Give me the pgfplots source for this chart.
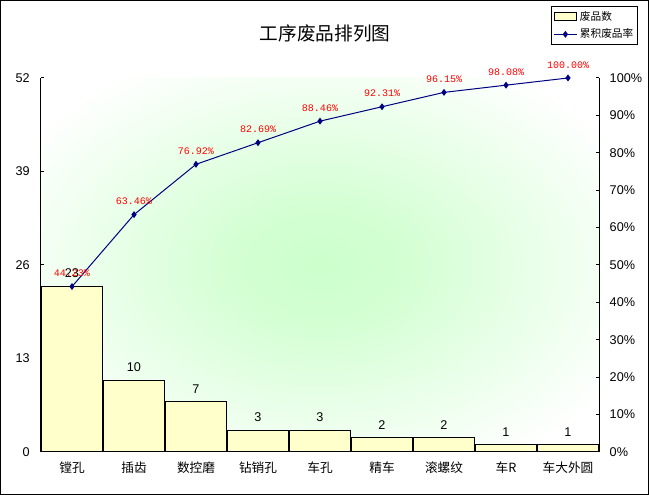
\documentclass[border=0pt]{standalone}
\usepackage{pgfplots}
\pgfplotsset{compat=1.18}
\usepackage{fontspec}
\setmainfont{Liberation Sans}
\newfontfamily\cjk{Noto Sans CJK SC}
\newfontfamily\mono{Liberation Mono}
\definecolor{baryel}{HTML}{FFFFCC}
\definecolor{navyl}{HTML}{000080}
\definecolor{bgc}{HTML}{CCFFCC}
\pgfdeclareradialshading{bgshade}{\pgfpoint{0bp}{0bp}}{color(0bp)=(bgc); color(8bp)=(bgc!85!white); color(20bp)=(bgc!40!white); color(31bp)=(white); color(50bp)=(white)}
\begin{document}
\begin{tikzpicture}
\draw[line width=0.75pt] (0.375pt,0.375pt) rectangle (486.375pt,370.875pt);
\useasboundingbox (0,0) rectangle (486.75pt,371.25pt);
\begin{axis}[
  at={(30.75pt,32.25pt)}, anchor=south west,
  scale only axis, width=418.5pt, height=280.5pt,
  xmin=-0.5, xmax=8.5, ymin=0, ymax=52,
  axis x line*=bottom, axis y line*=left,
  axis line style={line width=0.75pt},
  axis background/.style={shading=bgshade},
  xtick={0,...,8},
  xticklabels={镗孔,插齿,数控磨,钻销孔,车孔,精车,滚螺纹,车R,车大外圆},
  xticklabel style={font=\cjk\fontsize{9.5}{11}\selectfont, anchor=center, yshift=-12pt},
  x tick style={draw=none},
  ytick={0,13,26,39,52},
  tick align=inside, major tick length=2.25pt,
  y tick style={line width=0.75pt, black},
  yticklabel style={font=\fontsize{9.5}{11}\selectfont, xshift=-5pt},
  /pgf/number format/assume math mode=true,
  title={\cjk 工序废品排列图},
  title style={at={(0.5,1)}, anchor=center, yshift=27.75pt, xshift=3.75pt, font=\cjk\fontsize{14}{16}\selectfont},
  clip=false,
]
\addplot[ybar, bar width=0.98, fill=baryel, draw=black, line width=0.75pt,
  nodes near coords,
  every node near coord/.style={font=\fontsize{9.5}{11}\selectfont, text=black, anchor=south, inner sep=0pt, yshift=6pt}]
  coordinates {(0,23) (1,10) (2,7) (3,3) (4,3) (5,2) (6,2) (7,1) (8,1)};
\end{axis}
\begin{axis}[
  at={(30.75pt,32.25pt)}, anchor=south west,
  scale only axis, width=418.5pt, height=280.5pt,
  xmin=-0.5, xmax=8.5, ymin=0, ymax=100,
  axis x line=none, axis y line*=right,
  axis line style={line width=0.75pt},
  ytick={0,10,...,100},
  yticklabels={0\%,10\%,20\%,30\%,40\%,50\%,60\%,70\%,80\%,90\%,100\%},
  tick align=inside, major tick length=2.25pt,
  y tick style={line width=0.75pt, black},
  yticklabel style={font=\fontsize{9.5}{11}\selectfont, xshift=4.5pt},
  clip=false,
  legend style={at={(0.914,1.1925)}, anchor=north west, draw=black, line width=0.75pt,
    font=\cjk\fontsize{8}{9}\selectfont, inner sep=1.5pt, row sep=1pt, fill=white},
  legend cell align=left,
]
\addlegendimage{area legend, fill=baryel, draw=black, line width=0.75pt}
\addlegendentry{废品数}
\addplot[navyl, line width=0.75pt, mark=diamond*, mark size=2pt,
  nodes near coords, point meta=explicit symbolic,
  every node near coord/.style={font=\mono\fontsize{7.5}{9}\selectfont, text=red, anchor=south, inner sep=0pt, yshift=7pt}]
  coordinates {(0,44.23)[44.23\%] (1,63.46)[63.46\%] (2,76.92)[76.92\%] (3,82.69)[82.69\%] (4,88.46)[88.46\%] (5,92.31)[92.31\%] (6,96.15)[96.15\%] (7,98.08)[98.08\%] (8,100)[100.00\%]};
\addlegendentry{累积废品率}
\end{axis}
\end{tikzpicture}
\end{document}
